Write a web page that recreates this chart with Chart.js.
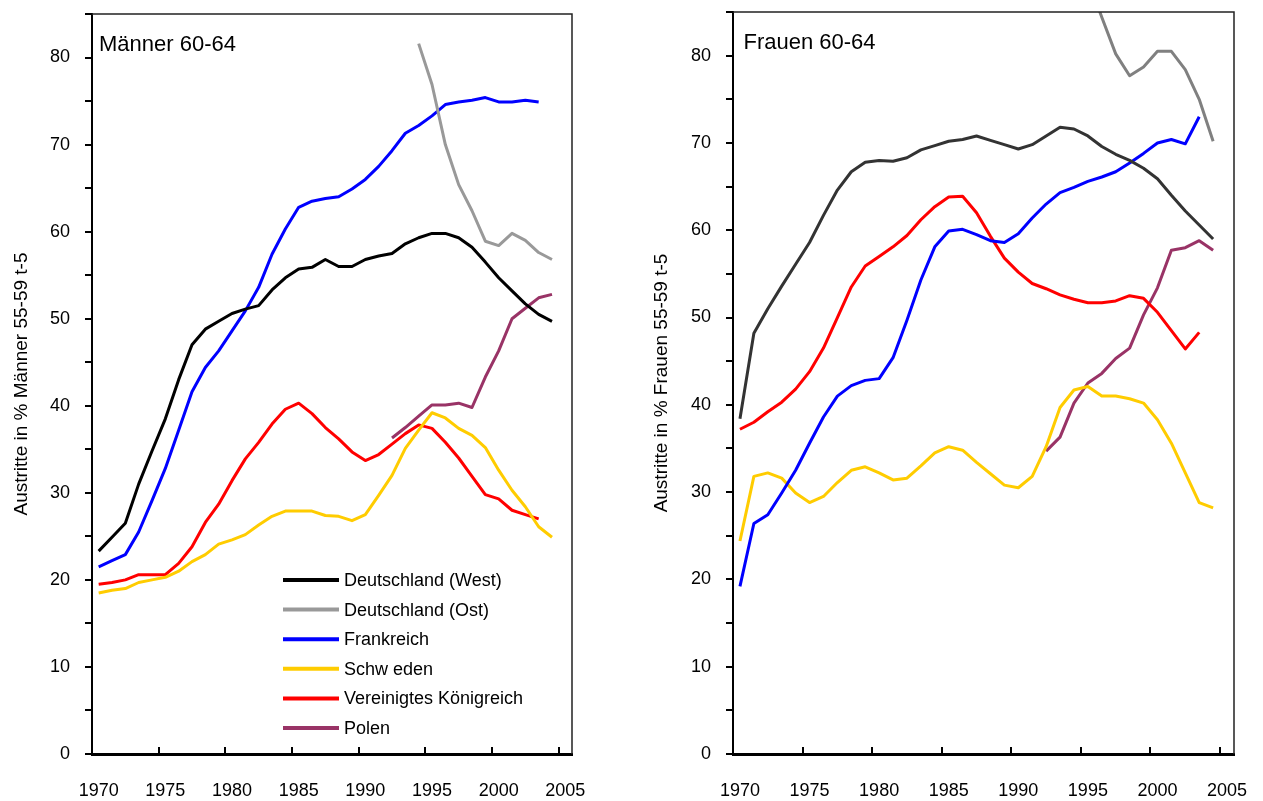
<!DOCTYPE html>
<html><head><meta charset="utf-8">
<script src="https://cdn.jsdelivr.net/npm/chart.js@4.4.0/dist/chart.umd.min.js"></script>
<style>
html,body{margin:0;padding:0;background:#fff;overflow:hidden;width:1263px;height:801px}
#c1{position:absolute;left:0;top:0}
#c2{position:absolute;left:630px;top:0}
</style></head><body>
<canvas id="c1" width="630" height="801"></canvas>
<canvas id="c2" width="633" height="801"></canvas>
<script>
const years = [1970,1971,1972,1973,1974,1975,1976,1977,1978,1979,1980,1981,1982,1983,1984,1985,1986,1987,1988,1989,1990,1991,1992,1993,1994,1995,1996,1997,1998,1999,2000,2001,2002,2003,2004,2005];
const yTicksLabelled = [0,10,20,30,40,50,60,70,80];
const seriesNames = ['Deutschland (West)','Deutschland (Ost)','Frankreich','Schw eden','Vereinigtes Königreich','Polen'];

// Männer 60-64
const mWest = [23.3,24.9,26.5,31.0,34.8,38.5,43.0,47.0,48.8,49.7, 50.6,51.1,51.5,53.3,54.7,55.7,55.9,56.8,56.0,56.0, 56.8,57.2,57.5,58.6,59.3,59.8,59.8,59.3,58.2,56.5, 54.7,53.2,51.7,50.5,49.7];
const mOst = [null,null,null,null,null,null,null,null,null,null, null,null,null,null,null,null,null,null,null,null, null,null,null,null,81.6,76.9,70.0,65.4,62.4,58.9, 58.4,59.8,59.0,57.6,56.8];
const mFrance = [21.5,22.2,22.9,25.5,29.1,32.8,37.2,41.6,44.4,46.3, 48.6,50.9,53.6,57.4,60.3,62.8,63.5,63.8,64.0,64.9, 66.0,67.5,69.3,71.3,72.2,73.3,74.6,74.9,75.1,75.4, 74.9,74.9,75.1,74.9];
const mSweden = [18.5,18.8,19.0,19.7,20.0,20.3,21.0,22.1,22.9,24.1, 24.6,25.2,26.3,27.3,27.9,27.9,27.9,27.4,27.3,26.8, 27.5,29.7,32.0,35.1,37.2,39.2,38.6,37.4,36.6,35.2, 32.6,30.3,28.4,26.1,24.9];
const mUK = [19.5,19.7,20.0,20.6,20.6,20.6,21.9,23.8,26.6,28.7, 31.4,33.9,35.8,37.9,39.6,40.3,39.1,37.5,36.2,34.7, 33.7,34.4,35.6,36.8,37.8,37.4,35.8,34.0,31.9,29.8, 29.3,28.0,27.5,27.0];
const mPoland = [null,null,null,null,null,null,null,null,null,null, null,null,null,null,null,null,null,null,null,null, null,null,36.3,37.5,38.8,40.1,40.1,40.3,39.8,43.3, 46.3,50.0,51.2,52.4,52.8];

// Frauen 60-64
const fWest = [38.4,48.2,51.0,53.6,56.1,58.6,61.7,64.6,66.7,67.8, 68.0,67.9,68.3,69.2,69.7,70.2,70.4,70.8,70.3,69.8, 69.3,69.8,70.8,71.8,71.6,70.8,69.6,68.7,68.0,67.1, 65.9,64.0,62.2,60.6,59.0];
const fOst = [null,null,null,null,null,null,null,null,null,null, null,null,null,null,null,null,null,null,null,null, null,null,null,null,null,88.7,84.4,80.2,77.7,78.7, 80.5,80.5,78.4,75.0,70.2];
const fFrance = [19.2,26.4,27.4,29.9,32.5,35.6,38.6,41.0,42.2,42.8, 43.0,45.4,49.7,54.3,58.1,59.9,60.1,59.5,58.8,58.6, 59.6,61.4,63.0,64.3,64.9,65.6,66.1,66.7,67.7,68.8, 70.0,70.4,69.9,73.0];
const fSweden = [24.4,31.8,32.2,31.6,29.9,28.8,29.5,31.1,32.5,32.9, 32.2,31.4,31.6,33.0,34.5,35.2,34.8,33.4,32.1,30.8, 30.5,31.8,35.2,39.7,41.7,42.1,41.0,41.0,40.7,40.2, 38.3,35.6,32.2,28.8,28.2];
const fUK = [37.2,38.0,39.2,40.3,41.8,43.8,46.5,50.0,53.5,55.9, 57.0,58.1,59.4,61.2,62.7,63.8,63.9,62.0,59.3,56.8, 55.2,53.9,53.3,52.6,52.1,51.7,51.7,51.9,52.5,52.2, 50.6,48.5,46.4,48.3];
const fPoland = [null,null,null,null,null,null,null,null,null,null, null,null,null,null,null,null,null,null,null,null, null,null,34.7,36.3,40.2,42.5,43.6,45.3,46.5,50.3, 53.4,57.7,58.0,58.8,57.7];

Chart.defaults.font.family = '"Liberation Sans", Arial, sans-serif';
Chart.defaults.color = '#000';

const framePlugin = {
  id: 'frame',
  afterDatasetsDraw(chart) {
    const {ctx, chartArea: a} = chart;
    const xs = chart.scales.x;
    ctx.save();
    ctx.strokeStyle = '#222';
    ctx.lineWidth = 1.5;
    ctx.beginPath();
    ctx.moveTo(a.left, a.top); ctx.lineTo(a.right, a.top); ctx.lineTo(a.right, a.bottom);
    ctx.stroke();
    const half = (xs.getPixelForValue(1) - xs.getPixelForValue(0)) / 2;
    ctx.strokeStyle = '#000';
    ctx.lineWidth = 2;
    for (let k = 5; k < years.length; k += 5) {
      const x = Math.round(xs.getPixelForValue(k) - half);
      ctx.beginPath(); ctx.moveTo(x, a.bottom); ctx.lineTo(x, a.bottom - 7); ctx.stroke();
    }
    ctx.restore();
  }
};

const titlePlugin = {
  id: 'panelTitle',
  afterDraw(chart, args, opts) {
    const {ctx, chartArea: a} = chart;
    ctx.save();
    ctx.font = '22px "Liberation Sans", Arial, sans-serif';
    ctx.fillStyle = '#000';
    ctx.textBaseline = 'alphabetic';
    ctx.fillText(opts.text, a.left + opts.dx, opts.baseline);
    ctx.restore();
  }
};

const legendPlugin = {
  id: 'seriesLegend',
  afterDraw(chart, args, opts) {
    if (!opts.show) return;
    const {ctx} = chart;
    ctx.save();
    ctx.font = '18px "Liberation Sans", Arial, sans-serif';
    ctx.textBaseline = 'middle';
    chart.data.datasets.forEach((ds, k) => {
      const y = opts.y0 + k * opts.dy;
      ctx.strokeStyle = ds.borderColor; ctx.lineWidth = 4;
      ctx.beginPath(); ctx.moveTo(opts.x0, y); ctx.lineTo(opts.x1, y); ctx.stroke();
      ctx.fillStyle = '#000';
      ctx.fillText(ds.label, opts.tx, y + 1);
    });
    ctx.restore();
  }
};

function makeChart(el, cfg) {
  return new Chart(el, {
    type: 'line',
    data: {
      labels: years.map(String),
      datasets: cfg.series.map((s, i) => ({
        label: seriesNames[i], data: s, borderColor: cfg.colors[i], backgroundColor: cfg.colors[i],
        borderWidth: 3, pointRadius: 0, pointHoverRadius: 0, tension: 0, spanGaps: false, clip: 0,
        borderJoinStyle: 'round', fill: false
      }))
    },
    options: {
      responsive: false, animation: false, events: [],
      layout: {padding: {left: 0, right: cfg.padRight, top: cfg.padTop, bottom: 0}},
      plugins: {
        legend: {display: false}, tooltip: {enabled: false},
        panelTitle: {text: cfg.title, dx: cfg.titleDx, baseline: cfg.titleBase},
        seriesLegend: cfg.legend
      },
      scales: {
        x: {
          type: 'category', offset: true,
          grid: {display: true, drawOnChartArea: false, drawTicks: true, tickLength: 26, color: 'rgba(0,0,0,0)'},
          border: {display: true, color: '#000', width: 3},
          ticks: {autoSkip: false, maxRotation: 0, minRotation: 0, padding: 0, color: '#000', font: {size: 18},
            callback: function(val, idx) { return idx % 5 === 0 ? this.getLabelForValue(val) : ''; }},
          afterFit: s => { s.height = 47; s.paddingLeft = 0; s.paddingRight = 0; }
        },
        y: {
          min: 0, max: 85,
          ticks: {stepSize: 5, padding: 15, color: '#000', font: {size: 18},
            callback: v => yTicksLabelled.includes(v) ? String(v) : ''},
          grid: {drawOnChartArea: false, drawTicks: true, tickLength: 7, color: '#000', lineWidth: 2},
          border: {display: true, color: '#000', width: 2},
          title: {display: true, text: cfg.yTitle, color: '#000', font: {size: 19}, padding: {top: cfg.yTitlePad, bottom: 0}},
          afterFit: s => { s.width = cfg.yWidth; s.paddingTop = 0; s.paddingBottom = 0; }
        }
      }
    },
    plugins: [framePlugin, titlePlugin, legendPlugin]
  });
}

makeChart(document.getElementById('c1'), {
  series: [mWest, mOst, mFrance, mSweden, mUK, mPoland],
  colors: ['#000000', '#999999', '#0000ff', '#ffcc00', '#ff0000', '#993366'],
  padRight: 58, padTop: 14, yWidth: 92, yTitlePad: 10.6,
  yTitle: 'Austritte in % Männer 55-59 t-5',
  title: 'Männer 60-64', titleDx: 7, titleBase: 51,
  legend: {show: true, x0: 283, x1: 339, tx: 344, y0: 580, dy: 29.6}
});

makeChart(document.getElementById('c2'), {
  series: [fWest, fOst, fFrance, fSweden, fUK, fPoland],
  colors: ['#333333', '#808080', '#0000ff', '#ffcc00', '#ff0000', '#993366'],
  padRight: 29, padTop: 12, yWidth: 103, yTitlePad: 20.6,
  yTitle: 'Austritte in % Frauen 55-59 t-5',
  title: 'Frauen 60-64', titleDx: 10.5, titleBase: 49,
  legend: {show: false}
});
</script>
</body></html>
